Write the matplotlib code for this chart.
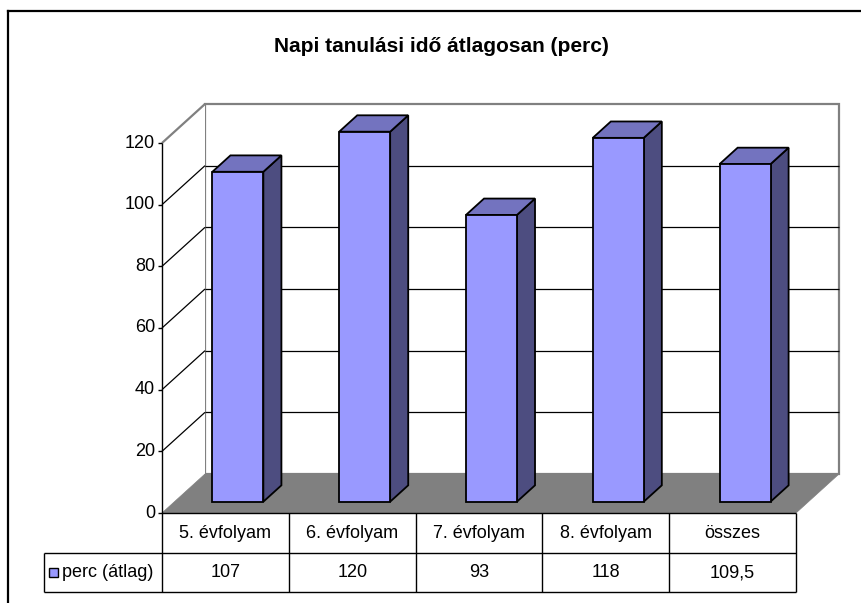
import matplotlib
matplotlib.use("Agg")
import matplotlib.pyplot as plt
from matplotlib.patches import Polygon, Rectangle
from matplotlib.lines import Line2D

plt.rcParams['font.family'] = ['Liberation Sans', 'DejaVu Sans']

# ---- data ----
categories = ["5. évfolyam", "6. évfolyam", "7. évfolyam", "8. évfolyam", "összes"]
values = [107, 120, 93, 118, 109.5]
value_labels = ["107", "120", "93", "118", "109,5"]
series_name = "perc (átlag)"
title = "Napi tanulási idő átlagosan (perc)"
yticks = [0, 20, 40, 60, 80, 100, 120]

# ---- style ----
FRONT = "#9999FF"
SIDE = "#4D4D80"
TOP = "#7373BF"
FLOOR = "#808080"
WALL_EDGE = "#808080"
FS = 13

W, H = 861, 603
fig = plt.figure(figsize=(W / 100, H / 100), dpi=100)
fig.patch.set_facecolor("white")

# front plane of the plot in pixels
x_left, x_right = 162, 796
y_zero, y_top = 513, 143
ax = fig.add_axes([x_left / W, 1 - y_zero / H, (x_right - x_left) / W, (y_zero - y_top) / H])
n = len(categories)
ymax = 120
ax.set_xlim(0, n)
ax.set_ylim(0, ymax)
ax.axis("off")

px_x = (x_right - x_left) / n        # pixels per category unit
px_y = (y_zero - y_top) / ymax       # pixels per value unit
DX = 43 / px_x                        # full depth offset (data units)
DY = 39 / px_y


def P(x, v, f):
    return (x + f * DX, v + f * DY)


def poly(pts, fc, ec="black", lw=1.2, z=1):
    ax.add_patch(Polygon(pts, closed=True, facecolor=fc, edgecolor=ec, linewidth=lw,
                         zorder=z, clip_on=False, joinstyle="miter"))


def line(p0, p1, color="black", lw=1.0, z=2):
    ax.add_line(Line2D([p0[0], p1[0]], [p0[1], p1[1]], color=color, linewidth=lw,
                       zorder=z, clip_on=False, solid_capstyle="butt"))


# back wall and left wall
poly([P(0, 0, 1), P(n, 0, 1), P(n, ymax, 1), P(0, ymax, 1)], "white", WALL_EDGE, 1.6, 0)
poly([P(0, 0, 0), P(0, ymax, 0), P(0, ymax, 1), P(0, 0, 1)], "white", "none", 0, 0)
line(P(0, ymax, 0), P(0, ymax, 1), WALL_EDGE, 1.6, 1)

# gridlines
for v in yticks[1:-1]:
    line(P(0, v, 0), P(0, v, 1), "black", 0.9, 1)
    line(P(0, v, 1), P(n, v, 1), "black", 0.9, 1)

# floor
poly([P(0, 0, 0), P(n, 0, 0), P(n, 0, 1), P(0, 0, 1)], FLOOR, FLOOR, 0.5, 1)

# bars
bw = 0.402
f0, f1 = 0.29, 0.71
for i, v in enumerate(values):
    x0 = i + 0.5 - bw / 2
    x1 = i + 0.5 + bw / 2
    poly([P(x1, 0, f0), P(x1, 0, f1), P(x1, v, f1), P(x1, v, f0)], SIDE, "black", 1.3, 3)
    poly([P(x0, v, f0), P(x1, v, f0), P(x1, v, f1), P(x0, v, f1)], TOP, "black", 1.3, 3)
    poly([P(x0, 0, f0), P(x1, 0, f0), P(x1, v, f0), P(x0, v, f0)], FRONT, "black", 1.3, 4)

# table geometry (value units below zero)
row1 = -40 / px_y
row2 = -79 / px_y
legend_left = -(x_left - 44) / px_x

# y axis line (continues as table border)
line((0, ymax), (0, row2), "black", 1.0, 5)
for v in yticks:
    line((-4 / px_x, v), (0, v), "black", 1.0, 5)
    ax.text(-7 / px_x, v, str(v), ha="right", va="center", fontsize=FS, zorder=5)

# table lines
line((0, 0), (n, 0), "black", 1.0, 5)
line((legend_left, row1), (n, row1), "black", 1.0, 5)
line((legend_left, row2), (n, row2), "black", 1.0, 5)
line((legend_left, row1), (legend_left, row2), "black", 1.0, 5)
for i in range(1, n + 1):
    line((i, 0), (i, row2), "black", 1.0, 5)

for i, (c, lab) in enumerate(zip(categories, value_labels)):
    ax.text(i + 0.5, row1 / 2, c, ha="center", va="center", fontsize=FS, zorder=6)
    ax.text(i + 0.5, (row1 + row2) / 2, lab, ha="center", va="center", fontsize=FS, zorder=6)

# legend key in table
sq = 9.5
kx = legend_left + 5 / px_x
ymid = (row1 + row2) / 2
ax.add_patch(Rectangle((kx, ymid - sq / 2 / px_y), sq / px_x, sq / px_y, facecolor=FRONT,
                       edgecolor="black", linewidth=1.0, clip_on=False, zorder=6))
ax.text(kx + (sq + 4) / px_x, ymid, series_name, ha="left", va="center", fontsize=FS, zorder=6)

# chart border
fig.add_artist(Line2D([8 / W, 1.0], [1 - 11 / H, 1 - 11 / H], color="black", linewidth=1.6,
                      transform=fig.transFigure))
fig.add_artist(Line2D([8 / W, 8 / W], [1 - 11 / H, 0], color="black", linewidth=1.6,
                      transform=fig.transFigure))

fig.text(441 / W, 1 - 46 / H, title, ha="center", va="center", fontsize=15, fontweight="bold")

fig.savefig("out.png", dpi=100)
